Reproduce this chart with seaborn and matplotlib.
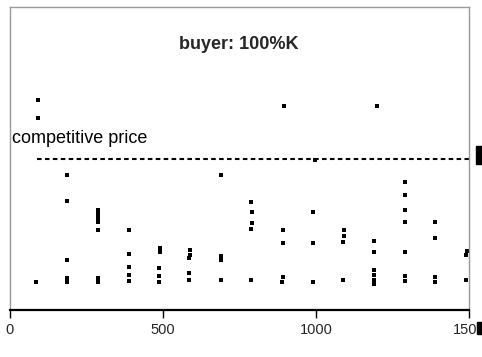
import matplotlib
matplotlib.use("Agg")
import matplotlib.pyplot as plt
import seaborn as sns
import pandas as pd
from matplotlib.patches import Rectangle

# periods (x) and prices (y), one entry per dot
period = [93, 93, 84,
          186, 186, 186, 186, 186,
          287, 287, 287, 287, 287, 287, 287,
          390, 390, 390, 390, 390,
          490, 490, 488, 488, 488,
          588, 588, 586, 586, 586,
          688, 688, 690, 688,
          788, 790, 790, 788, 788,
          897, 892, 892, 892, 890,
          996, 991, 991, 991,
          1090, 1090, 1088, 1088,
          1199, 1189, 1189, 1189, 1189, 1189, 1189,
          1291, 1291, 1291, 1291, 1291, 1291, 1291,
          1389, 1389, 1389, 1389,
          1493, 1491, 1491]
price = [138.6, 126.7, 18.5,
         89, 72, 33, 21, 18.5,
         66, 63.4, 60.7, 58, 52.8, 21, 18.5,
         52.8, 37, 28.4, 23, 19,
         41, 38, 27.7, 22.4, 18.5,
         39.6, 36.5, 34.3, 24.4, 19.8,
         89, 35.6, 33, 19.8,
         71.3, 64.7, 57.4, 53.5, 19.8,
         134.7, 52.8, 44.2, 21.8, 18.5,
         99, 64.7, 44.2, 18.5,
         52.8, 48.8, 44.9, 19.8,
         134.7, 45.5, 38.3, 26.4, 23.1, 19.8, 17.2,
         84.5, 75.9, 66, 58, 38.3, 22.4, 19.1,
         58, 47.5, 21.8, 18.5,
         38.9, 36.3, 19.8]
competitive_price = 100
line_start = 88
xtick_vals = [0, 500, 1000, 1500]
title = "buyer: 100%K"
line_label = "competitive price"

df = pd.DataFrame({"period": period, "price": price})

sns.set_style("white")
plt.rcParams["font.family"] = ["Liberation Sans", "DejaVu Sans"]

fig = plt.figure(figsize=(4.82, 3.57), dpi=100)
ax = fig.add_axes([10 / 482, 47 / 357, 459 / 482, 303 / 357])

sns.scatterplot(data=df, x="period", y="price", marker="s", color="black",
                s=7, linewidth=0, ax=ax)

ax.hlines(competitive_price, line_start, 1500, colors="black",
          linestyles=(0, (2.2, 1.6)), linewidth=1.5)
ax.text(5, competitive_price + 13, line_label, fontsize=13,
        ha="left", va="center", color="black")
ax.text(0.499, 0.875, title, transform=ax.transAxes, fontsize=13,
        fontweight="bold", ha="center", va="center")

ax.set_xlim(0, 1500)
ax.set_ylim(0, 200)
ax.set_xticks(xtick_vals)
ax.set_xticklabels([str(v) for v in xtick_vals], fontsize=10.5)
ax.set_yticks([])
ax.set_xlabel("")
ax.set_ylabel("")
ax.tick_params(axis="x", direction="out", length=6, width=1, color="black",
               pad=3, bottom=True)

for side in ["top", "left", "right"]:
    ax.spines[side].set_color("#999999")
    ax.spines[side].set_linewidth(1)
ax.spines["bottom"].set_color("black")
ax.spines["bottom"].set_linewidth(1.6)

# clipped marks on the right edge of the picture
fig.patches.append(Rectangle((476 / 482, (357 - 164) / 357), 6 / 482, 18 / 357,
                             transform=fig.transFigure, color="black"))
fig.patches.append(Rectangle((477 / 482, (357 - 334) / 357), 5 / 482, 12 / 357,
                             transform=fig.transFigure, color="black"))

fig.savefig("out.png", dpi=100)
